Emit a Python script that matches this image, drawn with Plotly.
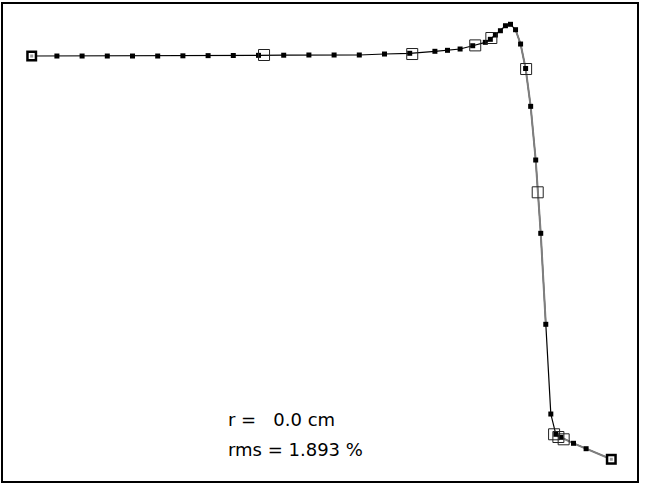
import plotly.graph_objects as go

# Calculated curve (filled markers): depth (cm) vs relative dose (%)
calc_depth = [0, 1, 2, 3, 4, 5, 6, 7, 8, 9, 10, 11, 12, 13, 14, 15, 16,
              16.5, 17, 17.5, 18, 18.2, 18.4, 18.6, 18.8, 19.0, 19.2, 19.4,
              19.6, 19.8, 20.0, 20.2, 20.4, 20.6, 20.8, 21.0, 21.5, 22.0, 23.0]
calc_dose = [100.0, 100.0, 100.0, 100.0, 100.0, 100.0, 100.05, 100.09, 100.12,
             100.16, 100.19, 100.24, 100.24, 100.24, 100.47, 100.64, 101.11,
             101.34, 101.65, 102.42, 103.22, 103.93, 104.94, 105.95, 107.13,
             107.46, 106.19, 102.82, 97.06, 88.16, 75.53, 58.28, 36.87, 15.76,
             10.99, 10.28, 8.87, 7.60, 5.11]

# Measured curve (open squares)
meas_depth = [0.0, 9.22, 15.1, 17.6, 18.24, 19.62, 20.08, 20.73, 20.90, 21.11, 23.0]
meas_dose = [100.0, 100.24, 100.47, 102.5, 104.24, 96.94, 67.93, 10.99, 10.35, 9.81, 5.11]

label_r = "r =\u00a0\u00a0\u00a00.0 cm"
label_rms = "rms = 1.893 %"

# portions of the curve where the grey (measured) line lies on top
gray_segments = [(19.2, 20.4), (20.8, 23.0)]

fig = go.Figure()

fig.add_trace(go.Scatter(x=calc_depth, y=calc_dose, mode="lines",
                         line=dict(color="black", width=1.2),
                         hoverinfo="skip", showlegend=False))

gx, gy = [], []
for a, b in gray_segments:
    for d, v in zip(calc_depth, calc_dose):
        if a <= d <= b:
            gx.append(d)
            gy.append(v)
    gx.append(None)
    gy.append(None)
fig.add_trace(go.Scatter(x=gx, y=gy, mode="lines",
                         line=dict(color="#7f7f7f", width=2),
                         hoverinfo="skip", showlegend=False))

fig.add_trace(go.Scatter(x=calc_depth[1:-1], y=calc_dose[1:-1], mode="markers",
                         marker=dict(symbol="square", size=5, color="black",
                                     line=dict(width=0)),
                         showlegend=False))

fig.add_trace(go.Scatter(x=meas_depth[1:-1], y=meas_dose[1:-1], mode="markers",
                         marker=dict(symbol="square-open", size=11, color="#222222",
                                     line=dict(width=1)),
                         showlegend=False))

ends_x = [meas_depth[0], meas_depth[-1]]
ends_y = [meas_dose[0], meas_dose[-1]]
fig.add_trace(go.Scatter(x=ends_x, y=ends_y, mode="markers",
                         marker=dict(symbol="square", size=11, color="black",
                                     line=dict(width=0)), showlegend=False))
fig.add_trace(go.Scatter(x=ends_x, y=ends_y, mode="markers",
                         marker=dict(symbol="square", size=6, color="white",
                                     line=dict(width=0)), showlegend=False))
fig.add_trace(go.Scatter(x=ends_x, y=ends_y, mode="markers",
                         marker=dict(symbol="square", size=3, color="#999999",
                                     line=dict(width=0)), showlegend=False))

font = dict(family="DejaVu Sans, Arial, sans-serif", size=18, color="black")
fig.add_annotation(text=label_r, xref="paper", yref="paper", x=0.352, y=0.128,
                   xanchor="left", yanchor="middle", showarrow=False, font=font)
fig.add_annotation(text=label_rms, xref="paper", yref="paper", x=0.352, y=0.067,
                   xanchor="left", yanchor="middle", showarrow=False, font=font)

axis_common = dict(showgrid=False, zeroline=False, showticklabels=False,
                   ticks="", showline=True, mirror=True, linecolor="black",
                   linewidth=1.6)
fig.update_xaxes(range=[-1.139, 24.02], **axis_common)
fig.update_yaxes(range=[0, 112.24], **axis_common)

fig.update_layout(width=645, height=485, margin=dict(l=3, r=8, t=4, b=4),
                  paper_bgcolor="white", plot_bgcolor="white")

fig.write_html("out.html", config={"displayModeBar": False},
               post_script="document.body.style.margin='0';"
                           "document.body.style.overflow='hidden';")
